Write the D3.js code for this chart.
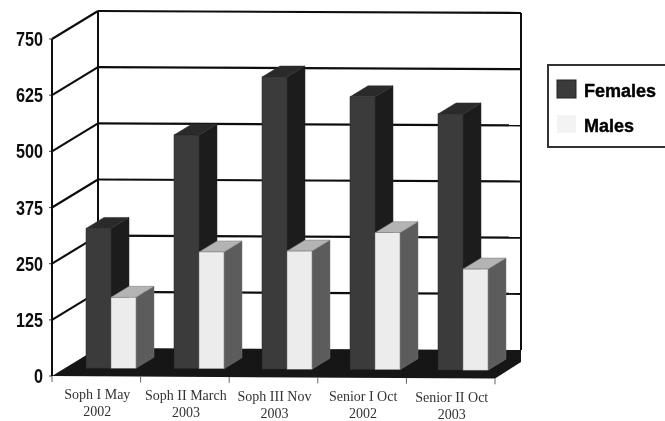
<!DOCTYPE html>
<html><head><meta charset="utf-8">
<script src="https://cdnjs.cloudflare.com/ajax/libs/d3/7.8.5/d3.min.js"></script>
<style>html,body{margin:0;padding:0;background:#fff;overflow:hidden}svg{display:block}</style>
</head><body><svg id="c" width="665" height="421"></svg>
<script>
const categories=[["Soph I May","2002"],["Soph II March","2003"],["Soph III Nov","2003"],["Senior I Oct","2002"],["Senior II Oct","2003"]];
const females=[311,520,650,607,570];
const males=[158,260,263,305,225];
const seriesNames=["Females","Males"];
const yTicks=[0,125,250,375,500,625,750];

const svg=d3.select("#c");
const defs=svg.append("defs");
defs.append("filter").attr("id","soft").attr("x","-5%").attr("y","-5%").attr("width","110%").attr("height","110%")
  .append("feGaussianBlur").attr("stdDeviation",0.45);
const g=svg.append("g").attr("filter","url(#soft)");

const keys=categories.map(d=>d.join(" "));
const y=d3.scaleLinear().domain([0,750]).range([376,39]);
const xAxis=d3.scaleBand().domain(keys).range([52,495]);
const xBars=d3.scaleBand().domain(keys).range([52,492]);
const xSeries=d3.scaleBand().domain(seriesNames).range([34,84]);
const tilt=d3.scaleLinear().domain([52,521]).range([0,2.5]);
const dep={dx:46,dy:-28};
const bar={dx:18,dy:-11,base:8};
const pts=a=>a.map(p=>p.join(",")).join(" ");
const ink="#111";

// walls and gridlines
yTicks.forEach(v=>{
  if(v>0){
    g.append("line").attr("x1",52).attr("y1",y(v)).attr("x2",52+dep.dx).attr("y2",y(v)+dep.dy).attr("stroke",ink).attr("stroke-width",2.2);
    g.append("line").attr("x1",52+dep.dx).attr("y1",y(v)+dep.dy).attr("x2",521).attr("y2",y(v)+dep.dy+2).attr("stroke",ink).attr("stroke-width",2.2);
  }
  g.append("line").attr("x1",49).attr("y1",y(v)).attr("x2",52).attr("y2",y(v)).attr("stroke","#555").attr("stroke-width",1.2);
  g.append("text").attr("x",43).attr("y",y(v)+7).attr("text-anchor","end")
    .attr("font-family","'Liberation Sans',sans-serif").attr("font-weight","bold").attr("font-size",20)
    .attr("textLength",String(v).length*9).attr("lengthAdjust","spacingAndGlyphs").attr("fill","#111").text(v);
});
[[52,y(750),y(0)],[52+dep.dx,y(750)+dep.dy,y(0)+dep.dy],[521,y(750)+dep.dy+2,y(0)+dep.dy+2]].forEach(l=>{
  g.append("line").attr("x1",l[0]).attr("y1",l[1]).attr("x2",l[0]).attr("y2",l[2]).attr("stroke",ink).attr("stroke-width",2);
});

// floor slab
g.append("polygon").attr("fill","#141414").attr("points",pts([
  [52,y(0)],[52+dep.dx,y(0)+dep.dy],[521,y(0)+dep.dy+2],[521,y(0)-14],[495,y(0)+2.5]]));

// axis ticks and labels
d3.range(6).forEach(i=>{
  const tx=i<5?xAxis(keys[i]):xAxis.range()[1];
  g.append("line").attr("x1",tx).attr("y1",y(0)+tilt(tx)).attr("x2",tx).attr("y2",y(0)+tilt(tx)+6).attr("stroke","#666").attr("stroke-width",1);
});
categories.forEach((c,i)=>{
  const cx=xAxis(keys[i])+xAxis.bandwidth()/2+1;
  const dy=i*0.8;
  c.forEach((t,j)=>{
    g.append("text").attr("x",cx).attr("y",399+dy+j*17).attr("text-anchor","middle")
      .attr("font-family","'Liberation Serif',serif").attr("font-size",14).attr("fill","#333").text(t);
  });
});

// bars
const palette={Females:{front:"#3a3a3a",side:"#1d1d1d",top:"#2b2b2b",edge:"#2a2a2a"},Males:{front:"#ececec",side:"#5c5c5c",top:"#b4b4b4",edge:"#777"}};
const barValues={Females:females,Males:males};
keys.forEach((k,i)=>{
  seriesNames.forEach(s=>{
    const x0=xBars(k)+xSeries(s),w=xSeries.bandwidth(),c=palette[s];
    const base=y(0)-bar.base+tilt(x0);
    const top=base-(y(0)-y(barValues[s][i]));
    g.append("polygon").attr("fill",c.side).attr("stroke",c.edge).attr("stroke-width",0.5).attr("points",pts([[x0+w,base],[x0+w,top],[x0+w+bar.dx,top+bar.dy],[x0+w+bar.dx,base+bar.dy]]));
    g.append("polygon").attr("fill",c.top).attr("stroke",c.edge).attr("stroke-width",0.5).attr("points",pts([[x0,top],[x0+w,top],[x0+w+bar.dx,top+bar.dy],[x0+bar.dx,top+bar.dy]]));
    g.append("rect").attr("x",x0).attr("y",top).attr("width",w).attr("height",base-top).attr("fill",c.front).attr("stroke",c.edge).attr("stroke-width",0.5);
  });
});

// legend
g.append("rect").attr("x",548).attr("y",65).attr("width",130).attr("height",82).attr("fill","#fff").attr("stroke","#333").attr("stroke-width",2);
seriesNames.forEach((s,i)=>{
  g.append("rect").attr("x",557).attr("y",80+i*35).attr("width",19).attr("height",18).attr("fill",i?"#f3f3f3":"#3a3a3a").attr("stroke",i?"none":"#222");
  g.append("text").attr("x",584).attr("y",97+i*35).attr("font-family","'Liberation Sans',sans-serif").attr("font-weight","bold")
    .attr("font-size",18).attr("fill","#000").attr("stroke","#000").attr("stroke-width",0.4).text(s);
});
</script></body></html>
